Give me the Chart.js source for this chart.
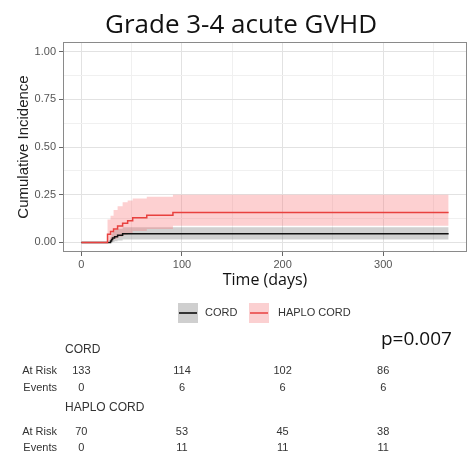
<!DOCTYPE html>
<html>
<head>
<meta charset="utf-8">
<script src="https://cdn.jsdelivr.net/npm/chart.js@4"></script>
<style>
  body { margin: 0; background: #fff; }
  #wrap { width: 473px; height: 459px; }
</style>
</head>
<body>
<div id="wrap"><canvas id="myChart" width="473" height="459"></canvas></div>
<script>
// cumulative incidence, step times in days
var cordTimes = [0, 29, 30, 31, 33, 36, 41, 365];
var cordCI    = [0, 0.0075, 0.015, 0.023, 0.030, 0.038, 0.045, 0.045];
var cordLo    = [0, 0, 0, 0.002, 0.006, 0.010, 0.015, 0.018];
var cordHi    = [0, 0.030, 0.045, 0.055, 0.065, 0.072, 0.080, 0.085];

var haploTimes = [0, 26, 29, 32, 36, 41, 46, 51, 65, 91, 365];
var haploCI    = [0, 0.043, 0.057, 0.071, 0.086, 0.100, 0.114, 0.129, 0.143, 0.157, 0.157];
var haploLo    = [0, 0.005, 0.012, 0.020, 0.030, 0.040, 0.050, 0.060, 0.070, 0.088, 0.088];
var haploHi    = [0, 0.120, 0.140, 0.170, 0.190, 0.210, 0.220, 0.230, 0.240, 0.250, 0.250];

var xTicks = [0, 50, 100, 150, 200, 250, 300, 350];
var yTicks = [0, 0.125, 0.25, 0.375, 0.5, 0.625, 0.75, 0.875, 1];

var riskTimes = [0, 100, 200, 300];
var cordAtRisk = [133, 114, 102, 86];
var cordEvents = [0, 6, 6, 6];
var haploAtRisk = [70, 53, 45, 38];
var haploEvents = [0, 11, 11, 11];

function pts(t, v) {
  return t.map(function(x, i) { return {x: x, y: v[i]}; });
}

var RED = '#e8413f';
var PINK = 'rgba(248,120,124,0.35)';
var GREY = 'rgba(120,120,120,0.35)';

function isMajorX(v) { return v % 100 === 0; }
function isMajorY(v) { return Math.abs((v * 4) - Math.round(v * 4)) < 1e-6; }

var extras = {
  id: 'extras',
  afterDraw: function(chart) {
    var c = chart.ctx, a = chart.chartArea, xs = chart.scales.x;
    c.save();
    // panel border
    c.strokeStyle = '#8a8a8a';
    c.lineWidth = 1;
    c.strokeRect(a.left + 0.5, a.top + 0.5, a.right - a.left - 1, a.bottom - a.top - 1);

    // title
    c.fillStyle = '#111';
    c.textAlign = 'center';
    c.textBaseline = 'alphabetic';
    c.font = '26px "Open Sans"';
    c.fillText('Grade 3-4 acute GVHD', 241, 33);

    // legend
    c.fillStyle = '#cfcfcf';
    c.fillRect(178, 303, 20, 20);
    c.strokeStyle = '#000';
    c.lineWidth = 1.5;
    c.beginPath(); c.moveTo(179, 313); c.lineTo(197, 313); c.stroke();
    c.fillStyle = '#fbd0d1';
    c.fillRect(249, 303, 20, 20);
    c.strokeStyle = RED;
    c.beginPath(); c.moveTo(250, 313); c.lineTo(268, 313); c.stroke();
    c.fillStyle = '#333';
    c.textAlign = 'left';
    c.textBaseline = 'middle';
    c.font = '11px "Liberation Sans"';
    c.fillText('CORD', 205, 313);
    c.fillText('HAPLO CORD', 278, 313);

    // p-value
    c.fillStyle = '#111';
    c.font = '19px "Open Sans"';
    c.textBaseline = 'alphabetic';
    c.fillText('p=0.007', 381, 345);

    // risk table
    c.fillStyle = '#333';
    c.textBaseline = 'middle';
    c.font = '12px "Liberation Sans"';
    c.fillText('CORD', 65, 350);
    c.fillText('HAPLO CORD', 65, 408);
    c.font = '11px "Liberation Sans"';
    c.textAlign = 'right';
    c.fillText('At Risk', 57, 371);
    c.fillText('Events', 57, 388);
    c.fillText('At Risk', 57, 432);
    c.fillText('Events', 57, 448);
    c.textAlign = 'center';
    riskTimes.forEach(function(t, i) {
      var px = xs.getPixelForValue(t);
      c.fillText(cordAtRisk[i], px, 371);
      c.fillText(cordEvents[i], px, 388);
      c.fillText(haploAtRisk[i], px, 432);
      c.fillText(haploEvents[i], px, 448);
    });
    c.restore();
  }
};

var ctx = document.getElementById('myChart');
var myChart = new Chart(ctx, {
  type: 'line',
  data: {
    datasets: [
      {
        label: 'HAPLO CORD',
        data: pts(haploTimes, haploCI),
        borderColor: RED,
        borderWidth: 1.5,
        stepped: true,
        pointRadius: 0,
        fill: false
      }, {
        label: 'CORD',
        data: pts(cordTimes, cordCI),
        borderColor: '#111',
        borderWidth: 1.5,
        stepped: true,
        pointRadius: 0,
        fill: false
      }, {
        label: 'haplo hi',
        data: pts(haploTimes, haploHi),
        borderWidth: 0,
        borderColor: 'rgba(0,0,0,0)',
        backgroundColor: PINK,
        stepped: true,
        pointRadius: 0,
        fill: '+1'
      }, {
        label: 'haplo lo',
        data: pts(haploTimes, haploLo),
        borderWidth: 0,
        borderColor: 'rgba(0,0,0,0)',
        stepped: true,
        pointRadius: 0,
        fill: false
      }, {
        label: 'cord hi',
        data: pts(cordTimes, cordHi),
        borderWidth: 0,
        borderColor: 'rgba(0,0,0,0)',
        backgroundColor: GREY,
        stepped: true,
        pointRadius: 0,
        fill: '+1'
      }, {
        label: 'cord lo',
        data: pts(cordTimes, cordLo),
        borderWidth: 0,
        borderColor: 'rgba(0,0,0,0)',
        stepped: true,
        pointRadius: 0,
        fill: false
      }
    ]
  },
  options: {
    responsive: false,
    animation: false,
    devicePixelRatio: 1,
    layout: { padding: { left: 0, top: 42, right: 6, bottom: 167 } },
    plugins: {
      legend: { display: false },
      tooltip: { enabled: false }
    },
    scales: {
      x: {
        type: 'linear',
        min: -18.25,
        max: 383.25,
        afterBuildTicks: function(s) { s.ticks = xTicks.map(function(v) { return {value: v}; }); },
        afterFit: function(s) { s.height = 40; },
        border: { display: false },
        grid: {
          color: function(c) { return isMajorX(c.tick.value) ? '#e2e2e2' : '#f0f0f0'; },
          tickColor: function(c) { return isMajorX(c.tick.value) ? '#666' : 'rgba(0,0,0,0)'; },
          tickLength: 4
        },
        ticks: {
          autoSkip: false,
          maxRotation: 0,
          padding: 2,
          color: '#555',
          font: { family: 'Liberation Sans', size: 11 },
          callback: function(v) { return isMajorX(v) ? v : ''; }
        },
        title: {
          display: true,
          text: 'Time (days)',
          color: '#111',
          font: { family: 'Open Sans', size: 16 },
          padding: { top: 0, bottom: 2 }
        }
      },
      y: {
        type: 'linear',
        min: -0.05,
        max: 1.05,
        afterBuildTicks: function(s) { s.ticks = yTicks.map(function(v) { return {value: v}; }); },
        afterFit: function(s) { s.width = 63; },
        border: { display: false },
        grid: {
          color: function(c) { return isMajorY(c.tick.value) ? '#e2e2e2' : '#f0f0f0'; },
          tickColor: function(c) { return isMajorY(c.tick.value) ? '#666' : 'rgba(0,0,0,0)'; },
          tickLength: 4
        },
        ticks: {
          autoSkip: false,
          padding: 3,
          color: '#555',
          font: { family: 'Liberation Sans', size: 11 },
          callback: function(v) { return isMajorY(v) ? v.toFixed(2) : ''; }
        },
        title: {
          display: true,
          text: 'Cumulative Incidence',
          color: '#222',
          font: { family: 'Liberation Sans', size: 15 },
          padding: { top: 15, bottom: 0 }
        }
      }
    }
  },
  plugins: [extras]
});
</script>
</body>
</html>
